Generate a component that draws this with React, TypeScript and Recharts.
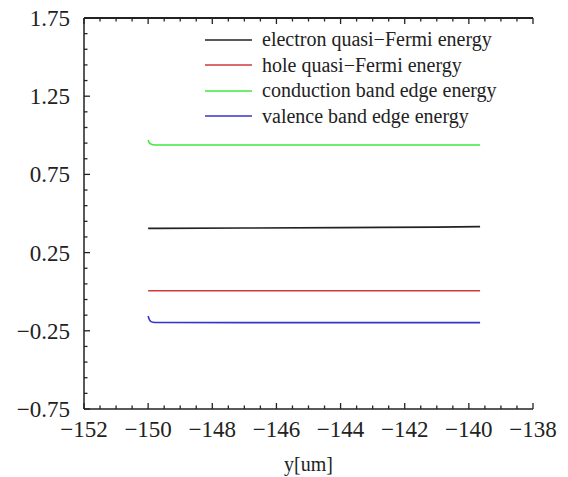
import { LineChart, Line, XAxis, YAxis, Legend } from 'recharts'

// band diagram along y
const xValues = [-150, -149.97, -149.92, -149.85, -149.7, -147, -144, -141, -139.65]
const electronQuasiFermi = [0.405, 0.405, 0.405, 0.405, 0.405, 0.407, 0.41, 0.413, 0.416]
const holeQuasiFermi = [0.006, 0.006, 0.006, 0.006, 0.006, 0.006, 0.006, 0.006, 0.006]
const conductionBandEdge = [0.97, 0.955, 0.945, 0.94, 0.938, 0.938, 0.938, 0.938, 0.938]
const valenceBandEdge = [-0.155, -0.175, -0.19, -0.195, -0.197, -0.198, -0.198, -0.198, -0.198]

const xTicks = [
  -152, -151.5, -151, -150.5, -150, -149.5, -149, -148.5, -148, -147.5, -147, -146.5, -146, -145.5,
  -145, -144.5, -144, -143.5, -143, -142.5, -142, -141.5, -141, -140.5, -140, -139.5, -139, -138.5,
  -138,
]
const xTickLabels = [-152, -150, -148, -146, -144, -142, -140, -138]
const yTicks = [
  -0.75, -0.65, -0.55, -0.45, -0.35, -0.25, -0.15, -0.05, 0.05, 0.15, 0.25, 0.35, 0.45, 0.55, 0.65,
  0.75, 0.85, 0.95, 1.05, 1.15, 1.25, 1.35, 1.45, 1.55, 1.65, 1.75,
]
const yTickLabels = [-0.75, -0.25, 0.25, 0.75, 1.25, 1.75]

const series = [
  { key: 'electron', name: 'electron quasi\u2212Fermi energy', color: '#222222', values: electronQuasiFermi },
  { key: 'hole', name: 'hole quasi\u2212Fermi energy', color: '#d03a3a', values: holeQuasiFermi },
  { key: 'conduction', name: 'conduction band edge energy', color: '#3ee83e', values: conductionBandEdge },
  { key: 'valence', name: 'valence band edge energy', color: '#3535cc', values: valenceBandEdge },
]

const data = xValues.map((x, i) => {
  const row: Record<string, number> = { x }
  series.forEach((s) => (row[s.key] = s.values[i]))
  return row
})

const FONT = "'Liberation Serif', 'DejaVu Serif', serif"
const INK = '#222'
const MAJOR = 6
const MINOR = 3.5

// chart layout
const WIDTH = 568
const HEIGHT = 477
const MARGIN = { top: 18, right: 35, bottom: 0, left: 0 }
const Y_AXIS_W = 84
const X_AXIS_H = 68
const PLOT_W = WIDTH - MARGIN.left - MARGIN.right - Y_AXIS_W
const PLOT_H = HEIGHT - MARGIN.top - MARGIN.bottom - X_AXIS_H

const fmt = (v: number) => {
  const s = Number.isInteger(v) ? String(v) : v.toFixed(2)
  return s.replace('-', '\u2212')
}

function LeftTick({ x, y, payload }: any) {
  const major = yTickLabels.includes(payload.value)
  return (
    <g>
      <line x1={x} x2={x + (major ? MAJOR : MINOR)} y1={y} y2={y} stroke={INK} strokeWidth={1.3} />
      {major && (
        <text x={x - 14} y={y} dy="0.35em" textAnchor="end" style={{ fontFamily: FONT }} fontSize={23} fill={INK}>
          {fmt(payload.value)}
        </text>
      )}
    </g>
  )
}

function RightTick({ x, y, payload }: any) {
  const major = yTickLabels.includes(payload.value)
  return <line x1={x} x2={x - (major ? MAJOR : MINOR)} y1={y} y2={y} stroke={INK} strokeWidth={1.3} />
}

// bottom tick + label, plus the mirrored tick on the top edge of the frame
function BottomTick({ x, y, payload }: any) {
  const major = xTickLabels.includes(payload.value)
  const len = major ? MAJOR : MINOR
  const top = Number(y) - PLOT_H
  return (
    <g>
      <line x1={x} x2={x} y1={y} y2={y - len} stroke={INK} strokeWidth={1.3} />
      <line x1={x} x2={x} y1={top} y2={top + len} stroke={INK} strokeWidth={1.3} />
      {major && (
        <text x={x} y={y + 20} dy="0.35em" textAnchor="middle" style={{ fontFamily: FONT }} fontSize={23} fill={INK}>
          {fmt(payload.value)}
        </text>
      )}
    </g>
  )
}

function LegendBox() {
  return (
    <div style={{ fontFamily: FONT, fontSize: 20, color: INK }}>
      {series.map((s) => (
        <div key={s.key} style={{ display: 'flex', alignItems: 'center', height: 25.5 }}>
          <svg width={47} height={4} style={{ display: 'block' }}>
            <line x1={0} x2={47} y1={2} y2={2} stroke={s.color} strokeWidth={1.6} />
          </svg>
          <span style={{ marginLeft: 10, lineHeight: '25.5px', whiteSpace: 'nowrap' }}>{s.name}</span>
        </div>
      ))}
    </div>
  )
}

export default function App() {
  const axisLine = { stroke: INK, strokeWidth: 1.5 }
  return (
    <div style={{ position: 'absolute', left: 0, top: 0, width: WIDTH, height: HEIGHT, background: '#fff', fontFamily: FONT }}>
      <LineChart width={WIDTH} height={HEIGHT} data={data} margin={MARGIN}>
        <XAxis
          dataKey="x"
          type="number"
          domain={[-152, -138]}
          ticks={xTicks}
          interval={0}
          height={X_AXIS_H}
          tickSize={0}
          tickMargin={0}
          tickLine={false}
          axisLine={axisLine}
          tick={<BottomTick />}
          label={{ value: 'y[um]', position: 'insideBottom', offset: 6, style: { fontFamily: FONT }, fontSize: 20, fill: INK }}
        />
        <YAxis
          type="number"
          domain={[-0.75, 1.75]}
          ticks={yTicks}
          interval={0}
          width={Y_AXIS_W}
          tickSize={0}
          tickMargin={0}
          tickLine={false}
          axisLine={axisLine}
          tick={<LeftTick />}
        />
        <YAxis
          yAxisId="right"
          orientation="right"
          type="number"
          domain={[-0.75, 1.75]}
          ticks={yTicks}
          interval={0}
          width={0}
          tickSize={0}
          tickMargin={0}
          tickLine={false}
          axisLine={axisLine}
          tick={<RightTick />}
        />
        <Legend
          layout="vertical"
          align="center"
          verticalAlign="middle"
          content={<LegendBox />}
          wrapperStyle={{ left: 205, top: 27, width: 330, height: 'auto' }}
        />
        {series.map((s) => (
          <Line
            key={s.key}
            dataKey={s.key}
            name={s.name}
            type="monotone"
            stroke={s.color}
            strokeWidth={1.6}
            dot={false}
            activeDot={false}
            isAnimationActive={false}
          />
        ))}
      </LineChart>
      {/* top edge of the frame */}
      <div
        style={{
          position: 'absolute',
          left: MARGIN.left + Y_AXIS_W,
          top: MARGIN.top - 1,
          width: PLOT_W,
          height: 2,
          background: INK,
          zIndex: 10,
          pointerEvents: 'none',
        }}
      />
    </div>
  )
}
